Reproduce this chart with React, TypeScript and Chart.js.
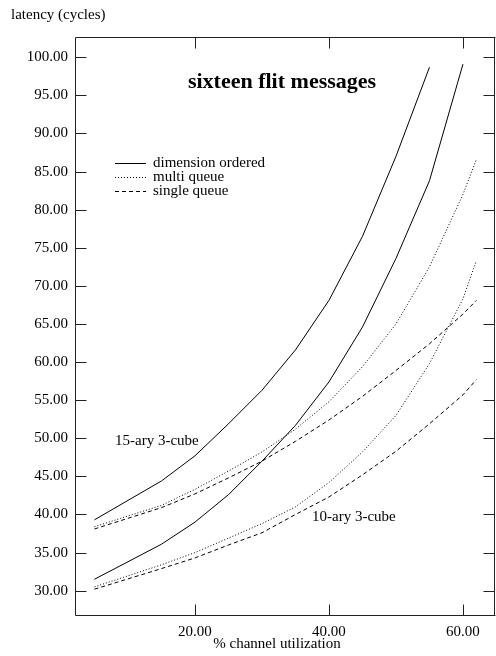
import React, { useEffect, useRef } from "react";
import { Chart, registerables } from "chart.js";

Chart.register(...registerables);

// ---- data ----
const utilDO15 = [5, 15, 20, 25, 30, 35, 40, 45, 50, 55];
const latDO15 = [39.3, 44.4, 47.7, 51.9, 56.3, 61.6, 68.1, 76.5, 87.0, 98.7];
const utilDO10 = [5, 15, 20, 25, 30, 35, 40, 45, 50, 55, 60];
const latDO10 = [31.5, 36.1, 39.0, 42.6, 47.0, 51.7, 57.4, 64.6, 73.6, 83.8, 99.1];
const utilQueue = [5, 15, 20, 25, 30, 35, 40, 45, 50, 55, 60, 62];
const latMulti15 = [38.4, 41.2, 43.3, 45.7, 48.2, 51.2, 54.8, 59.4, 65.0, 72.5, 82.0, 86.6];
const latSingle15 = [38.1, 40.9, 42.7, 44.8, 47.0, 49.6, 52.4, 55.5, 58.9, 62.4, 66.3, 68.1];
const latMulti10 = [30.5, 33.4, 35.0, 36.9, 38.8, 41.0, 44.2, 48.2, 53.0, 59.8, 68.3, 73.3];
const latSingle10 = [30.2, 32.9, 34.3, 36.0, 37.6, 40.0, 42.3, 45.2, 48.3, 51.9, 55.7, 57.7];

const xTickValues = [20, 40, 60];
const yTickValues = [30, 35, 40, 45, 50, 55, 60, 65, 70, 75, 80, 85, 90, 95, 100];

const legendLabels = ["dimension ordered", "multi queue", "single queue"];
const chartTitle = "sixteen flit messages";
const xTitle = "% channel utilization";
const yTitle = "latency (cycles)";
const label15 = "15-ary 3-cube";
const label10 = "10-ary 3-cube";

const SERIF = "'Liberation Serif', 'Times New Roman', serif";
const SOLID: number[] = [];
const DOTTED = [1, 2];
const DASHED = [4, 3];

const pts = (xs: number[], ys: number[]) => xs.map((x, i) => ({ x, y: ys[i] }));

const decorPlugin = {
  id: "decor",
  afterDraw(chart: any) {
    const { ctx, chartArea } = chart;
    const xs = chart.scales.x;
    const ys = chart.scales.y;
    const L = Math.round(chartArea.left) + 0.5;
    const R = Math.round(chartArea.right) - 0.5;
    const T = Math.round(chartArea.top) + 0.5;
    const B = Math.round(chartArea.bottom) + 0.5;
    ctx.save();
    ctx.strokeStyle = "#222";
    ctx.lineWidth = 1;
    ctx.setLineDash([]);
    ctx.beginPath();
    ctx.moveTo(L, T);
    ctx.lineTo(R + 1, T);
    ctx.moveTo(L, T);
    ctx.lineTo(L, B);
    ctx.lineTo(R + 1, B);
    ctx.moveTo(R, T);
    ctx.lineTo(R, B);
    yTickValues.forEach((v) => {
      const py = Math.round(ys.getPixelForValue(v)) + 0.5;
      ctx.moveTo(L, py);
      ctx.lineTo(L + 11, py);
      ctx.moveTo(R, py);
      ctx.lineTo(R - 11, py);
    });
    xTickValues.forEach((v) => {
      const px = Math.round(xs.getPixelForValue(v)) + 0.5;
      ctx.moveTo(px, B);
      ctx.lineTo(px, B - 11);
      ctx.moveTo(px, T);
      ctx.lineTo(px, T + 11);
    });
    ctx.stroke();

    ctx.fillStyle = "#000";
    ctx.textBaseline = "middle";
    ctx.font = `bold 22px ${SERIF}`;
    ctx.textAlign = "center";
    ctx.fillText(chartTitle, 282, 82);
    ctx.font = `15px ${SERIF}`;
    ctx.fillText(xTitle, 277, 644);
    ctx.textAlign = "left";
    ctx.fillText(yTitle, 11, 15);
    ctx.fillText(label15, 115, 441);
    ctx.fillText(label10, 312, 517);

    const dashes = [SOLID, DOTTED, DASHED];
    legendLabels.forEach((t, i) => {
      const y = 163 + i * 14;
      ctx.beginPath();
      ctx.setLineDash(dashes[i]);
      ctx.strokeStyle = "#000";
      ctx.moveTo(115, y + 0.5);
      ctx.lineTo(146, y + 0.5);
      ctx.stroke();
      ctx.setLineDash([]);
      ctx.fillText(t, 153, y);
    });
    ctx.restore();
  },
};

export default function App() {
  const ref = useRef<HTMLCanvasElement | null>(null);
  useEffect(() => {
    if (!ref.current) return;
    const mk = (label: string, xs: number[], ys: number[], dash: number[]) => ({
      label,
      data: pts(xs, ys),
      borderColor: "#000",
      borderWidth: 1,
      borderDash: dash,
      pointRadius: 0,
      fill: false,
      tension: 0,
      showLine: true,
    });
    const chart = new Chart(ref.current, {
      type: "scatter",
      data: {
        datasets: [
          mk("dimension ordered 15", utilDO15, latDO15, SOLID),
          mk("dimension ordered 10", utilDO10, latDO10, SOLID),
          mk("multi queue 15", utilQueue, latMulti15, DOTTED),
          mk("single queue 15", utilQueue, latSingle15, DASHED),
          mk("multi queue 10", utilQueue, latMulti10, DOTTED),
          mk("single queue 10", utilQueue, latSingle10, DASHED),
        ],
      },
      options: {
        responsive: false,
        animation: false,
        devicePixelRatio: 1,
        layout: { padding: { left: 0, right: 1, top: 37, bottom: 0 } },
        plugins: {
          legend: { display: false },
          tooltip: { enabled: false },
          title: { display: false },
        },
        scales: {
          x: {
            type: "linear",
            min: 2.09,
            max: 64.78,
            grid: { display: false, drawTicks: false },
            border: { display: false },
            afterBuildTicks: (axis: any) => {
              axis.ticks = xTickValues.map((v) => ({ value: v }));
            },
            afterFit: (axis: any) => {
              axis.height = 41;
            },
            ticks: {
              autoSkip: false,
              maxRotation: 0,
              padding: 8,
              color: "#000",
              font: { family: SERIF, size: 15 },
              callback: (v: any) => Number(v).toFixed(2),
            },
          },
          y: {
            type: "linear",
            min: 26.81,
            max: 102.66,
            grid: { display: false, drawTicks: false },
            border: { display: false },
            afterBuildTicks: (axis: any) => {
              axis.ticks = yTickValues.map((v) => ({ value: v }));
            },
            afterFit: (axis: any) => {
              axis.width = 75;
            },
            ticks: {
              autoSkip: false,
              padding: 7,
              color: "#000",
              font: { family: SERIF, size: 15 },
              callback: (v: any) => Number(v).toFixed(2),
            },
          },
        },
      },
      plugins: [decorPlugin],
    });
    return () => chart.destroy();
  }, []);
  return (
    <div style={{ position: "fixed", left: 0, top: 0, width: 496, height: 656, background: "#fff" }}>
      <canvas ref={ref} width={496} height={656} style={{ display: "block" }} />
    </div>
  );
}
